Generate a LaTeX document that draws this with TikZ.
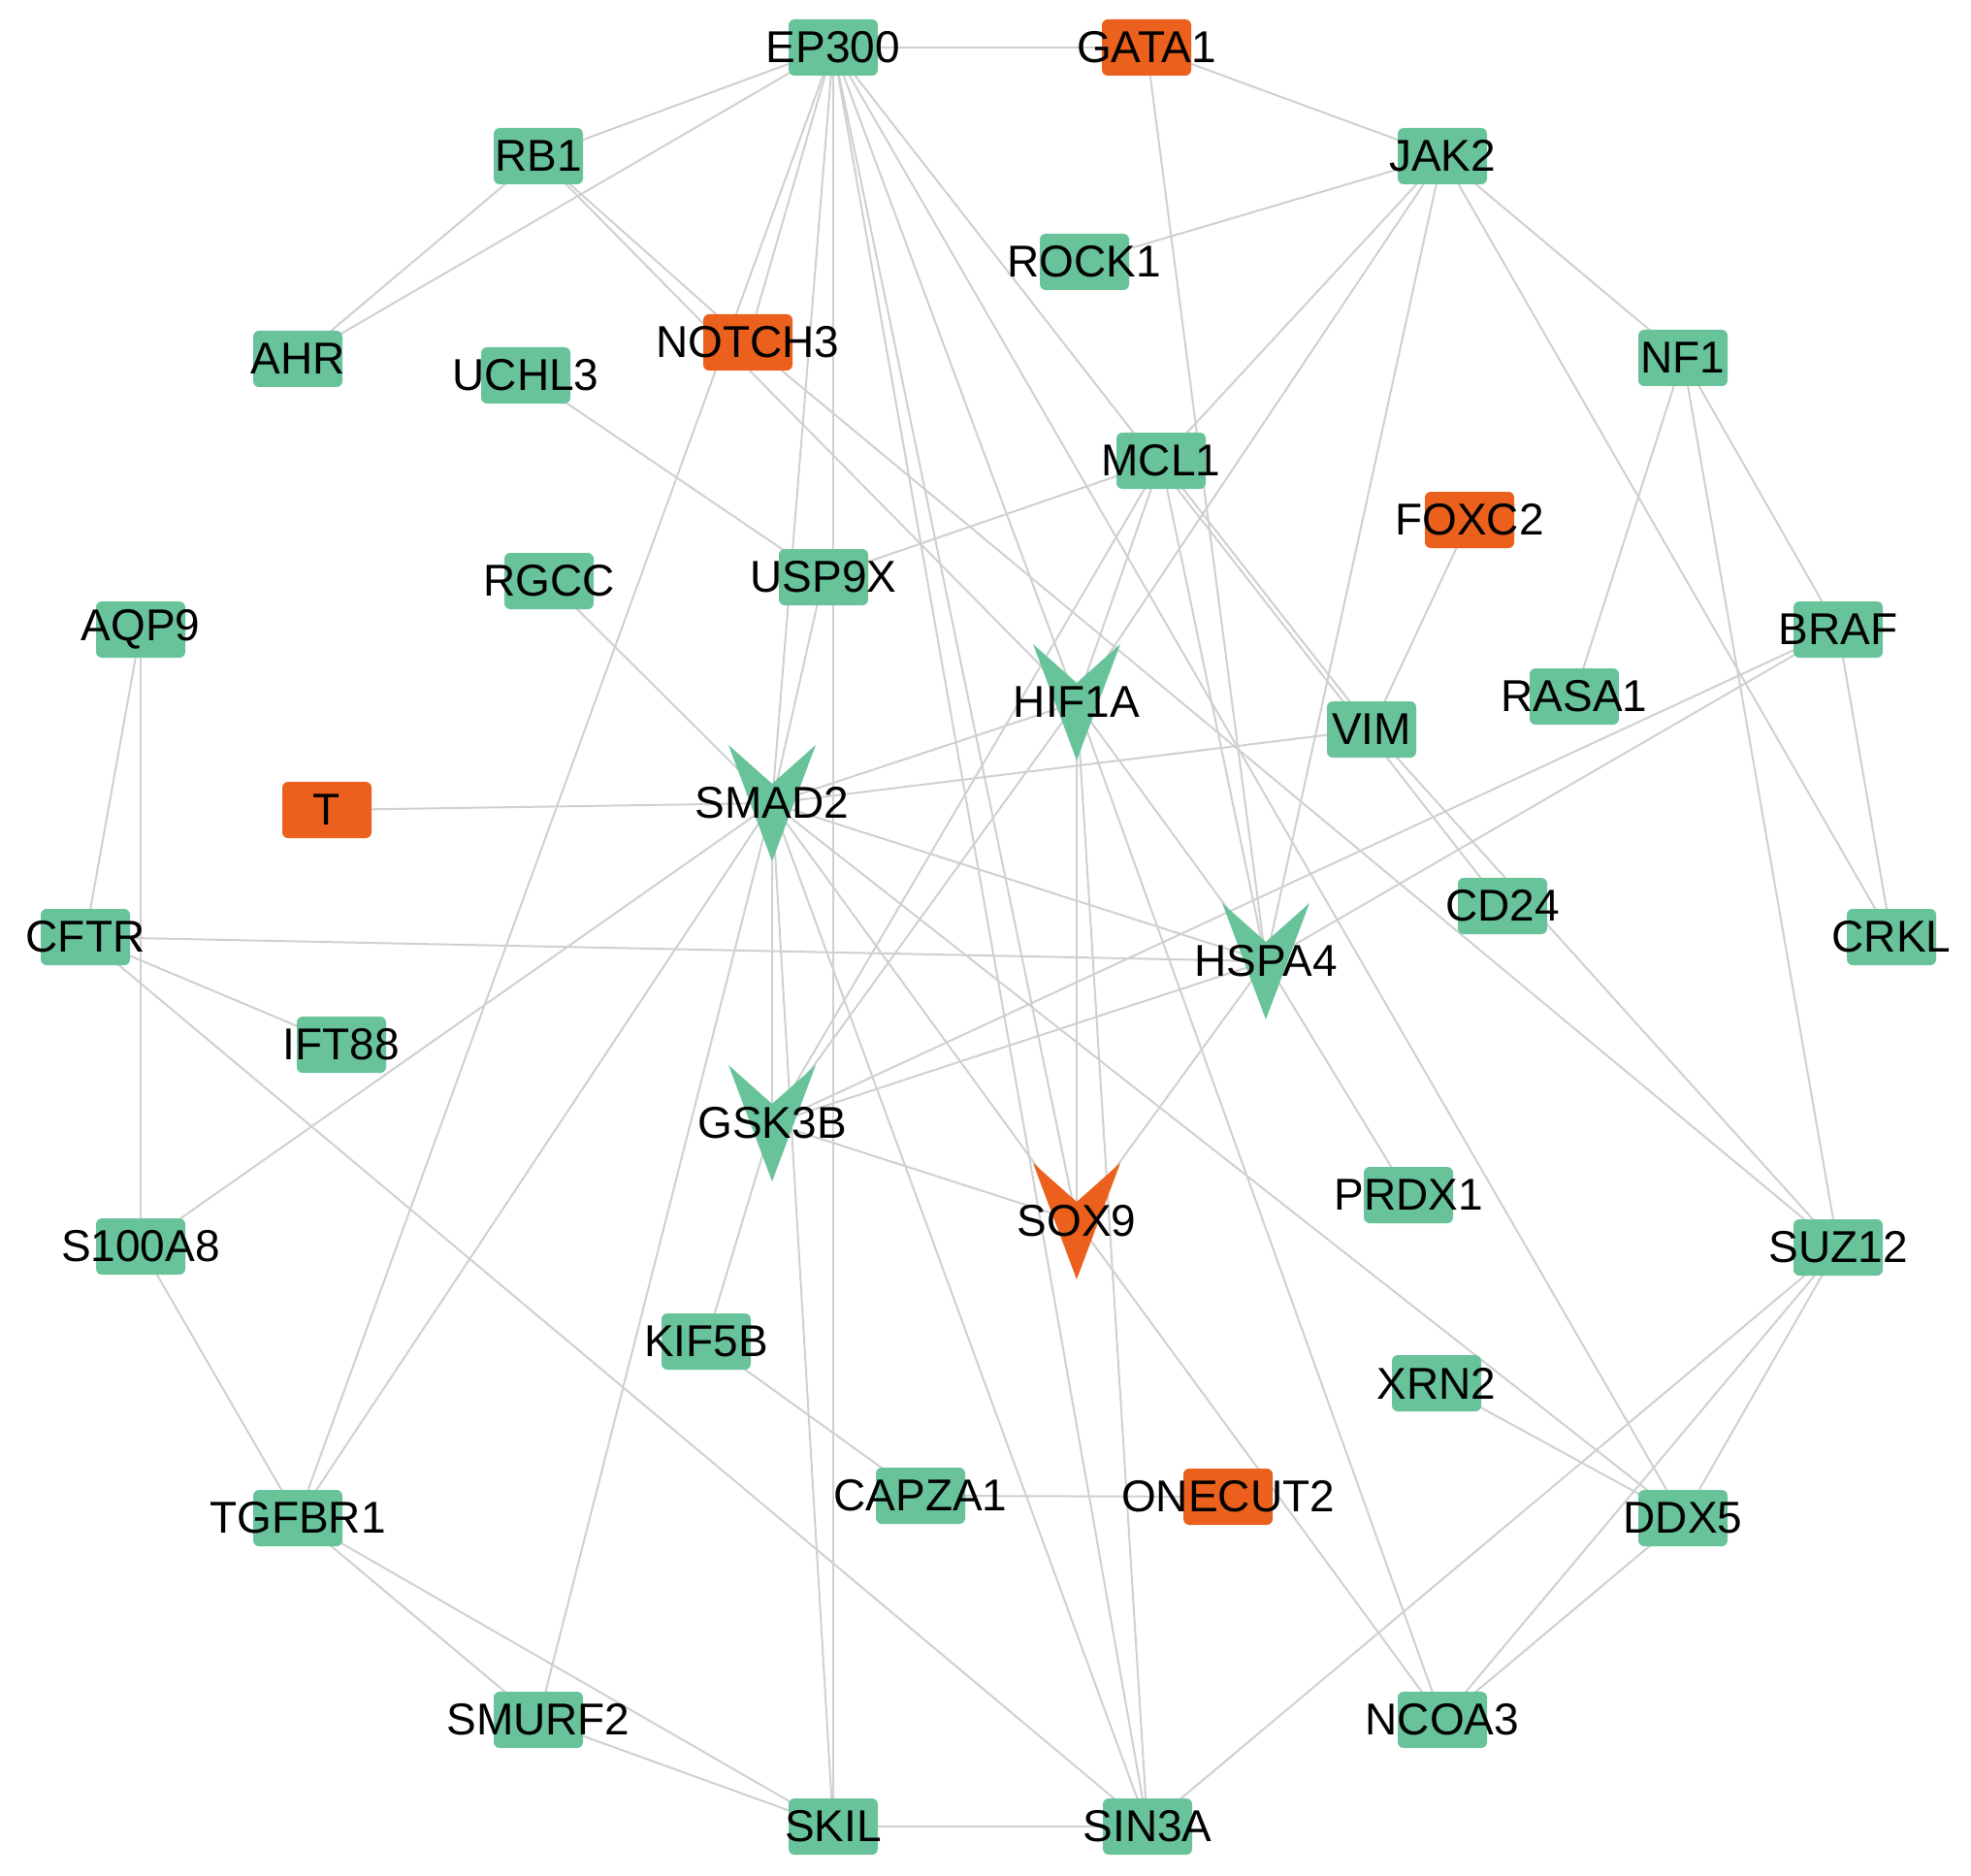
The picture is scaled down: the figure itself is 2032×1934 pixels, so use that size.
\documentclass[tikz,border=0pt]{standalone}
\usepackage{fontspec}
\setmainfont{Liberation Sans}
\usetikzlibrary{calc}
\definecolor{gfill}{RGB}{104,195,155}
\definecolor{ofill}{RGB}{234,96,28}
\definecolor{edgec}{RGB}{208,208,208}
\pgfdeclarelayer{edgelayer}
\pgfdeclarelayer{shapelayer}
\pgfsetlayers{edgelayer,shapelayer,main}
\newcommand{\drawvee}[2]{%
  \begin{pgfonlayer}{shapelayer}
    \fill[#2] ($(#1)+(-45,-60)$) -- ($(#1)+(0,-20)$) -- ($(#1)+(45,-60)$) -- ($(#1)+(0,60)$) -- cycle;
  \end{pgfonlayer}}
\begin{document}
\begin{tikzpicture}[x=1pt,y=-1pt,
  lbl/.style={inner sep=0pt, font=\fontsize{46}{55}\selectfont, text=black},
  box/.style={lbl, rectangle, rounded corners=6pt, minimum width=92pt, minimum height=58pt},
  gbox/.style={box, fill=gfill},
  obox/.style={box, fill=ofill},
  vnode/.style={lbl},
  edge/.style={draw=edgec, line width=2pt}]
\useasboundingbox (0,0) rectangle (2032,1934);
% rectangle nodes
\node[gbox] (EP300) at (859,49) {\makebox[0pt]{EP300}};
\node[obox] (GATA1) at (1182,49) {\makebox[0pt]{GATA1}};
\node[gbox] (RB1) at (555,161) {\makebox[0pt]{RB1}};
\node[gbox] (JAK2) at (1487,161) {\makebox[0pt]{JAK2}};
\node[gbox] (ROCK1) at (1118,270) {\makebox[0pt]{ROCK1}};
\node[obox] (NOTCH3) at (771,353) {\makebox[0pt]{NOTCH3}};
\node[gbox] (AHR) at (307,370) {\makebox[0pt]{AHR}};
\node[gbox] (UCHL3) at (542,387) {\makebox[0pt]{UCHL3}};
\node[gbox] (NF1) at (1735,369) {\makebox[0pt]{NF1}};
\node[gbox] (MCL1) at (1197,475) {\makebox[0pt]{MCL1}};
\node[obox] (FOXC2) at (1515,536) {\makebox[0pt]{FOXC2}};
\node[gbox] (RGCC) at (566,599) {\makebox[0pt]{RGCC}};
\node[gbox] (USP9X) at (849,595) {\makebox[0pt]{USP9X}};
\node[gbox] (AQP9) at (145,649) {\makebox[0pt]{AQP9}};
\node[gbox] (BRAF) at (1895,649) {\makebox[0pt]{BRAF}};
\node[gbox] (RASA1) at (1623,718) {\makebox[0pt]{RASA1}};
\node[gbox] (VIM) at (1414,752) {\makebox[0pt]{VIM}};
\node[obox] (T) at (337,835) {\makebox[0pt]{T}};
\node[gbox] (CFTR) at (88,966) {\makebox[0pt]{CFTR}};
\node[gbox] (CRKL) at (1950,966) {\makebox[0pt]{CRKL}};
\node[gbox] (CD24) at (1549,934) {\makebox[0pt]{CD24}};
\node[gbox] (IFT88) at (352,1077) {\makebox[0pt]{IFT88}};
\node[gbox] (PRDX1) at (1452,1232) {\makebox[0pt]{PRDX1}};
\node[gbox] (S100A8) at (145,1285) {\makebox[0pt]{S100A8}};
\node[gbox] (SUZ12) at (1895,1286) {\makebox[0pt]{SUZ12}};
\node[gbox] (KIF5B) at (728,1383) {\makebox[0pt]{KIF5B}};
\node[gbox] (XRN2) at (1481,1426) {\makebox[0pt]{XRN2}};
\node[gbox] (CAPZA1) at (949,1542) {\makebox[0pt]{CAPZA1}};
\node[obox] (ONECUT2) at (1266,1543) {\makebox[0pt]{ONECUT2}};
\node[gbox] (TGFBR1) at (307,1565) {\makebox[0pt]{TGFBR1}};
\node[gbox] (DDX5) at (1735,1565) {\makebox[0pt]{DDX5}};
\node[gbox] (SMURF2) at (555,1773) {\makebox[0pt]{SMURF2}};
\node[gbox] (NCOA3) at (1487,1773) {\makebox[0pt]{NCOA3}};
\node[gbox] (SKIL) at (859,1883) {\makebox[0pt]{SKIL}};
\node[gbox] (SIN3A) at (1183,1883) {\makebox[0pt]{SIN3A}};
% V-shaped hub nodes
\node[vnode] (HIF1A) at (1110,724) {\makebox[0pt]{HIF1A}};
\node[vnode] (SMAD2) at (796,828) {\makebox[0pt]{SMAD2}};
\node[vnode] (HSPA4) at (1305,991) {\makebox[0pt]{HSPA4}};
\node[vnode] (GSK3B) at (796,1158) {\makebox[0pt]{GSK3B}};
\node[vnode] (SOX9) at (1110,1259) {\makebox[0pt]{SOX9}};
\drawvee{HIF1A}{gfill}
\drawvee{SMAD2}{gfill}
\drawvee{HSPA4}{gfill}
\drawvee{GSK3B}{gfill}
\drawvee{SOX9}{ofill}
% edges
\begin{pgfonlayer}{edgelayer}
\foreach \a/\b in {EP300/GATA1, EP300/RB1, EP300/AHR, EP300/NOTCH3, EP300/TGFBR1,
  EP300/SMAD2, EP300/SKIL, EP300/SIN3A, EP300/SOX9, EP300/HIF1A, EP300/DDX5, EP300/CD24,
  RB1/AHR, RB1/NOTCH3, RB1/HIF1A, GATA1/JAK2, GATA1/HSPA4,
  JAK2/ROCK1, JAK2/NF1, JAK2/MCL1, JAK2/HIF1A, JAK2/HSPA4, JAK2/CRKL,
  NF1/RASA1, NF1/BRAF, NF1/SUZ12, BRAF/CRKL, BRAF/GSK3B, BRAF/HSPA4,
  FOXC2/VIM, VIM/SMAD2, VIM/SUZ12, MCL1/VIM, MCL1/USP9X, MCL1/HIF1A, MCL1/GSK3B, MCL1/HSPA4,
  NOTCH3/SUZ12, UCHL3/USP9X, USP9X/SMAD2, RGCC/SMAD2, T/SMAD2,
  SMAD2/HIF1A, SMAD2/HSPA4, SMAD2/GSK3B, SMAD2/SOX9, SMAD2/DDX5, SMAD2/SIN3A, SMAD2/SKIL,
  SMAD2/SMURF2, SMAD2/TGFBR1, SMAD2/S100A8,
  AQP9/CFTR, AQP9/S100A8, CFTR/HSPA4, CFTR/IFT88, CFTR/SIN3A,
  S100A8/TGFBR1, TGFBR1/SMURF2, TGFBR1/SKIL, SMURF2/SKIL, SKIL/SIN3A,
  HIF1A/SOX9, HIF1A/GSK3B, HIF1A/HSPA4, HIF1A/SIN3A, HIF1A/NCOA3,
  HSPA4/GSK3B, HSPA4/SOX9, HSPA4/PRDX1, GSK3B/SOX9, GSK3B/KIF5B, SOX9/NCOA3,
  KIF5B/CAPZA1, CAPZA1/ONECUT2, XRN2/DDX5, DDX5/SUZ12, DDX5/NCOA3, SUZ12/NCOA3, SUZ12/SIN3A}
  \draw[edge] (\a.center) -- (\b.center);
\end{pgfonlayer}
\end{tikzpicture}
\end{document}
